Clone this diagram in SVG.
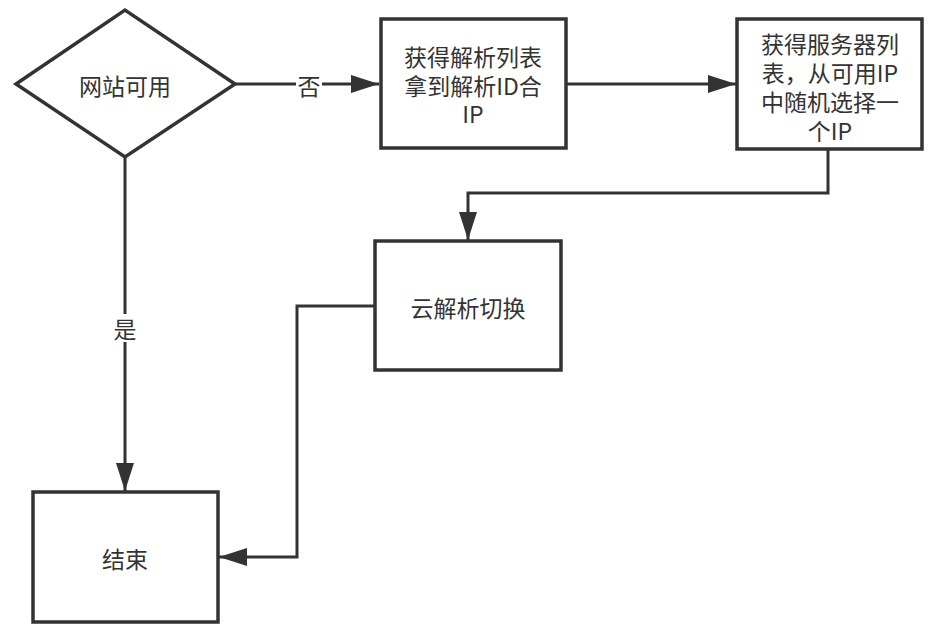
<svg xmlns="http://www.w3.org/2000/svg" width="930" height="631" viewBox="0 0 930 631">
<defs>
<style>
.shape{fill:#fff;stroke:#333;stroke-width:3.5}
.line{fill:none;stroke:#333;stroke-width:3}
.t{font-family:"Noto Sans CJK SC","Noto Sans",sans-serif;font-size:23px;fill:#333;text-anchor:middle;dominant-baseline:central}
.lbl{fill:#fff;stroke:none}
</style>
<marker id="arr" markerUnits="userSpaceOnUse" markerWidth="28" markerHeight="18" refX="28" refY="9" orient="auto">
<path d="M0,0 L28,9 L0,18 Z" fill="#333"/>
</marker>
</defs>
<rect width="930" height="631" fill="#fff"/>
<g id="connectors">
<path class="line" d="M235,84 L379,84" marker-end="url(#arr)"/>
<rect class="lbl" x="296" y="72" width="26" height="26"/>
<text class="t" x="309" y="85">否</text>
<path class="line" d="M566,84 L736,84" marker-end="url(#arr)"/>
<path class="line" d="M828,149 L828,193 L468,193 L468,240" marker-end="url(#arr)"/>
<path class="line" d="M375,306 L297,306 L297,557 L219,557" marker-end="url(#arr)"/>
<path class="line" d="M125,157 L125,491" marker-end="url(#arr)"/>
<rect class="lbl" x="112" y="314" width="26" height="28"/>
<text class="t" x="125" y="328">是</text>
</g>
<g id="node-decision">
<polygon class="shape" points="16,84 125,10 235,84 125,157"/>
<text class="t" x="125" y="85">网站可用</text>
</g>
<g id="node-parse-list">
<rect class="shape" x="381" y="19" width="185" height="129"/>
<text class="t" x="473" y="56">获得解析列表</text>
<text class="t" x="473" y="84.5">拿到解析ID合</text>
<text class="t" x="473" y="113">IP</text>
</g>
<g id="node-server-list">
<rect class="shape" x="737" y="19" width="185" height="130"/>
<text class="t" x="830" y="42.5">获得服务器列</text>
<text class="t" x="830" y="71.5">表，从可用IP</text>
<text class="t" x="830" y="100.5">中随机选择一</text>
<text class="t" x="830" y="129.5">个IP</text>
</g>
<g id="node-switch">
<rect class="shape" x="375" y="241" width="186" height="129"/>
<text class="t" x="468" y="307">云解析切换</text>
</g>
<g id="node-end">
<rect class="shape" x="33" y="492" width="185" height="130"/>
<text class="t" x="125" y="558">结束</text>
</g>
</svg>
